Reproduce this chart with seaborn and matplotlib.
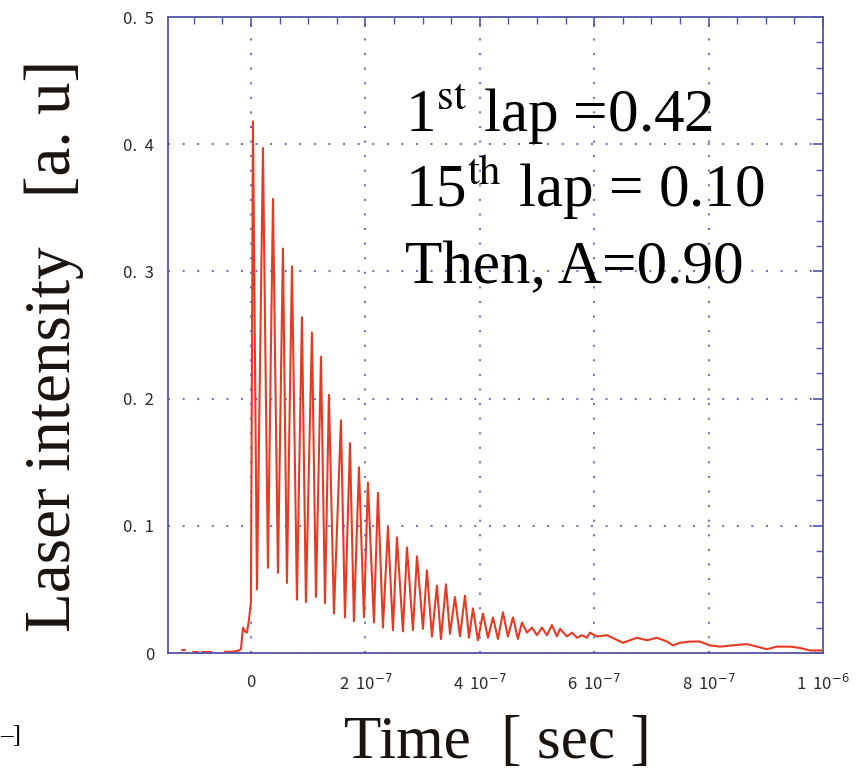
import numpy as np
import pandas as pd
import matplotlib
matplotlib.use("Agg")
import matplotlib.pyplot as plt
from matplotlib.ticker import MultipleLocator, FixedLocator
import seaborn as sns

# ---------------- data ----------------
time_ns = [
    -120.6, -115.4,
    -101.4, -92.6,
    -85.7, -69.9,
    -45.4, -31.5, -21.0, -17.5, -14.0, -10.5, -7.0, -3.5, 0.0,
    3.5, 10.5, 21.0, 29.7, 38.5, 47.2, 55.9, 62.9, 71.7, 80.4,
    89.1, 96.1, 106.6, 113.6, 122.4, 129.4, 136.3, 145.1, 157.3, 164.3,
    173.1, 180.0, 188.8, 197.5, 204.5, 215.0, 222.0, 230.7, 239.5, 248.2,
    255.2, 265.7, 272.7, 283.2, 290.2, 300.7, 307.6, 316.4, 325.1, 332.1,
    340.9, 347.9, 356.6, 365.3, 374.1, 381.1, 388.1, 396.8, 405.5, 414.3,
    423.0, 431.8, 440.5, 449.2, 458.0, 466.7, 473.7, 482.4, 491.2, 499.9,
    508.7, 517.4, 526.1, 534.9, 540.1, 552.4, 561.1, 569.8, 578.6, 587.3,
    592.6, 604.8, 622.3, 636.3, 650.3, 662.5, 674.7, 692.2, 709.7, 727.2,
    737.7, 749.9, 767.4, 784.9, 802.3, 819.8, 842.5, 867.0, 884.5, 902.0,
    919.4, 942.2, 959.7, 977.1, 989.4, 998.1,
]
intensity = [
    0.002, 0.002,
    0.001, 0.001,
    0.001, 0.001,
    0.001, 0.001, 0.002, 0.003, 0.020, 0.017, 0.016, 0.026, 0.040,
    0.418, 0.050, 0.397, 0.067, 0.357, 0.063, 0.318, 0.055, 0.304, 0.042,
    0.264, 0.040, 0.252, 0.044, 0.233, 0.039, 0.203, 0.031, 0.183, 0.028,
    0.165, 0.025, 0.146, 0.028, 0.134, 0.024, 0.126, 0.020, 0.099, 0.018,
    0.091, 0.017, 0.083, 0.018, 0.076, 0.019, 0.065, 0.013, 0.053, 0.011,
    0.054, 0.015, 0.044, 0.013, 0.045, 0.012, 0.035, 0.010, 0.031, 0.012,
    0.028, 0.011, 0.032, 0.013, 0.028, 0.011, 0.024, 0.016, 0.020, 0.014,
    0.020, 0.014, 0.022, 0.013, 0.019, 0.013, 0.016, 0.012, 0.014, 0.012,
    0.016, 0.013, 0.014, 0.011, 0.008, 0.010, 0.012, 0.010, 0.012, 0.009,
    0.006, 0.008, 0.009, 0.009, 0.006, 0.005, 0.006, 0.007, 0.005, 0.003,
    0.005, 0.005, 0.004, 0.002, 0.002, 0.002,
]
segment = [0, 0, 1, 1, 2, 2] + [3] * (len(time_ns) - 6)

y_ticks = [0.0, 0.1, 0.2, 0.3, 0.4, 0.5]
y_tick_labels = ["0", "0.  1", "0.  2", "0.  3", "0.  4", "0.  5"]
x_ticks = [0.0, 2e-7, 4e-7, 6e-7, 8e-7, 1e-6]
x_tick_labels = ["0", r"2  10$^{-7}$", r"4  10$^{-7}$", r"6  10$^{-7}$",
                 r"8  10$^{-7}$", r"1  10$^{-6}$"]
notes = [r"1$^{\mathrm{st}}$ lap =0.42",
         r"15$^{\mathrm{th}}$ lap = 0.10",
         "Then, A=0.90"]

df = pd.DataFrame({"time": np.array(time_ns) * 1e-9,
                   "intensity": intensity,
                   "segment": segment})

# ---------------- style ----------------
sns.set_style("white")
plt.rcParams["font.family"] = ["Noto Sans CJK JP", "DejaVu Sans"]
AX_COL = "#5454a8"
GRID_COL = "#7474c0"
LINE_COL = "#e83a22"

fig = plt.figure(figsize=(8.56, 7.73), dpi=100)
ax = fig.add_axes([168 / 856, 1 - 653 / 773, 655 / 856, 636 / 773])

sns.lineplot(data=df, x="time", y="intensity", units="segment",
             estimator=None, sort=False, color=LINE_COL, lw=1.5, ax=ax,
             legend=False)

ax.set_xlim(-1.45e-7, 1.0e-6)
ax.set_ylim(0, 0.5)

ax.xaxis.set_major_locator(FixedLocator(x_ticks))
ax.xaxis.set_minor_locator(MultipleLocator(5e-8))
ax.yaxis.set_major_locator(FixedLocator(y_ticks))
ax.yaxis.set_minor_locator(MultipleLocator(0.02))
ax.set_xticklabels(x_tick_labels)
ax.set_yticklabels(y_tick_labels)
for lab in ax.get_xticklabels() + ax.get_yticklabels():
    lab.set_math_fontfamily("dejavusans")

ax.tick_params(which="both", direction="in", top=True, right=True,
               color=AX_COL, labelcolor="#2a2a2a", labelsize=12)
ax.tick_params(which="major", length=7, width=1.2)
ax.tick_params(which="minor", length=5, width=1.0)
ax.tick_params(axis="x", which="major", pad=15)
ax.tick_params(axis="y", which="major", pad=10)

for s in ax.spines.values():
    s.set_visible(True)
    s.set_color(AX_COL)
    s.set_linewidth(1.3)

ax.grid(True, which="major", color=GRID_COL, linestyle=(0, (1, 6)),
        linewidth=1.5)
ax.set_axisbelow(True)

serif = ["Liberation Serif", "DejaVu Serif"]
ax.set_xlabel("Time  [ sec ]", fontsize=44, family=serif, color="#1a1410")
ax.set_ylabel("Laser intensity   [a. u]", fontsize=47, family=serif,
              color="#1a1410")
ax.xaxis.set_label_coords(0.503, -0.098)
ax.yaxis.set_label_coords(-0.128, 0.483)

for txt, yb in zip(notes, [0.819, 0.701, 0.582]):
    t = ax.text(0.362, yb, txt, transform=ax.transAxes, fontsize=44,
                family=serif, va="baseline", ha="left", color="black")
    t.set_math_fontfamily("stix")

fig.text(0.0, 1 - 736 / 773, "–]", fontsize=18, family=serif,
         ha="left", va="center", color="black")

fig.savefig("out.png", dpi=100)
